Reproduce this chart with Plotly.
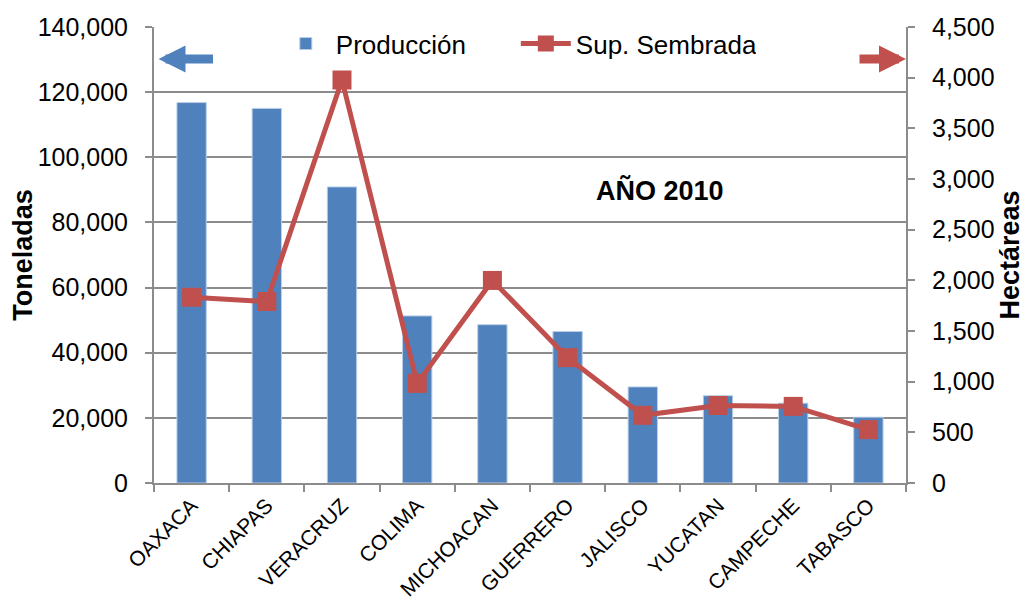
import plotly.graph_objects as go

estados = ['OAXACA', 'CHIAPAS', 'VERACRUZ', 'COLIMA', 'MICHOACAN',
           'GUERRERO', 'JALISCO', 'YUCATAN', 'CAMPECHE', 'TABASCO']
produccion = [116800, 115000, 90900, 51300, 48600, 46500, 29500, 26800, 24500, 20200]
sup_sembrada = [1833, 1791, 3977, 983, 1999, 1237, 668, 765, 756, 527]

AZUL = '#4F81BD'
ROJO = '#C0504D'
GRIS = '#8C8C8C'
FONT = 'Liberation Sans, Arial, sans-serif'

fig = go.Figure()
fig.add_trace(go.Bar(x=estados, y=produccion, name='Producción',
                     marker=dict(color=AZUL, line=dict(color='#B9CDE5', width=1))))
fig.add_trace(go.Scatter(x=estados, y=sup_sembrada, name='Sup. Sembrada', yaxis='y2',
                         mode='lines+markers',
                         line=dict(color=ROJO, width=5),
                         marker=dict(symbol='square', size=19, color=ROJO)))

axis_style = dict(showline=True, linecolor=GRIS, linewidth=2, ticks='outside',
                  ticklen=7, tickwidth=2, tickcolor=GRIS, zeroline=False, automargin=False)

fig.update_layout(
    width=1034, height=602,
    margin=dict(l=146, r=136, t=14, b=127),
    paper_bgcolor='white', plot_bgcolor='white',
    font=dict(family=FONT, size=25, color='#000000'),
    bargap=0.61,
    showlegend=True,
    legend=dict(orientation='h', x=0.162, xanchor='left', y=1.015, yanchor='top',
                bgcolor='rgba(0,0,0,0)', font=dict(size=26), itemwidth=50,
                entrywidth=175),
    xaxis=dict(axis_style, range=[-0.5, 9.5], tickson='boundaries', tickangle=-45,
               tickfont=dict(size=21)),
    yaxis=dict(axis_style, range=[0, 140000], dtick=20000, tickformat=',',
               showgrid=True, gridcolor=GRIS, gridwidth=2, ticklabelstandoff=12,
               title=dict(text='<b>Toneladas</b>', font=dict(size=27), standoff=2)),
    yaxis2=dict(axis_style, overlaying='y', side='right', range=[0, 4500], dtick=500,
                tickformat=',', showgrid=False, ticklabelstandoff=12,
                title=dict(text='<b>Hectáreas</b>', font=dict(size=27), standoff=6)),
)

fig.add_annotation(text='<b>AÑO 2010</b>', xref='paper', yref='paper', x=0.673, y=0.642,
                   xanchor='center', yanchor='middle', showarrow=False, font=dict(size=27))

# flechas indicando el eje de cada serie
fig.add_annotation(text='', xref='paper', yref='paper', x=0.006, y=0.93,
                   ax=56, ay=0, showarrow=True, arrowhead=2, arrowsize=0.6,
                   arrowwidth=9, arrowcolor=AZUL)
fig.add_annotation(text='', xref='paper', yref='paper', x=1.0, y=0.93,
                   ax=-48, ay=0, showarrow=True, arrowhead=2, arrowsize=0.6,
                   arrowwidth=9, arrowcolor=ROJO)

fig.write_html('out.html')
